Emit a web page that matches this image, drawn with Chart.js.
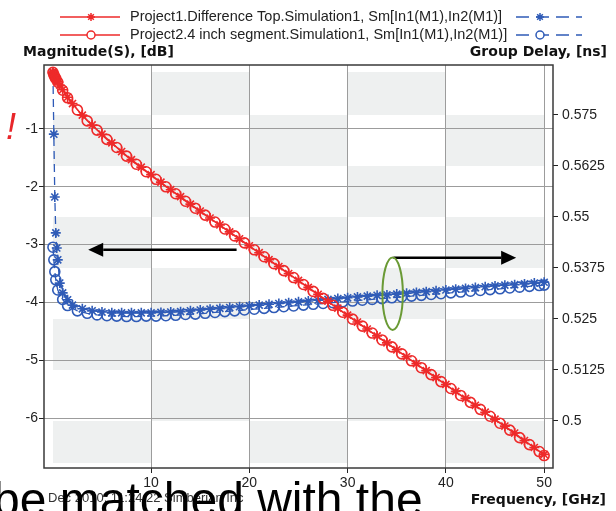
<!DOCTYPE html>
<html>
<head>
    <title>Magnitude and Group Delay vs Frequency</title>
    <script src="https://cdn.jsdelivr.net/npm/chart.js"></script>
    <style>
        body {
            margin: 0;
            background: #fff;
        }
        .chart-box {
            width: 616px;
            height: 511px;
            position: relative;
        }
    </style>
</head>
<body>
    <div class="chart-box">
        <canvas id="sparamChart" width="616" height="511"></canvas>
    </div>

    <script>
        // Frequency points (GHz) of each project sweep
        const freqP1 = [0.01, 0.1, 0.2, 0.3, 0.4, 0.5, 0.7, 1, 1.5, 2, 3, 4, 5, 6, 7, 8, 9, 10,
            11, 12, 13, 14, 15, 16, 17, 18, 19, 20, 21, 22, 23, 24, 25, 26, 27, 28, 29, 30,
            31, 32, 33, 34, 35, 36, 37, 38, 39, 40, 41, 42, 43, 44, 45, 46, 47, 48, 49, 50];
        const freqP2 = [0.01, 0.1, 0.2, 0.3, 0.5, 1, 1.5, 2.5, 3.5, 4.5, 5.5, 6.5, 7.5, 8.5, 9.5,
            10.5, 11.5, 12.5, 13.5, 14.5, 15.5, 16.5, 17.5, 18.5, 19.5, 20.5, 21.5, 22.5, 23.5, 24.5,
            25.5, 26.5, 27.5, 28.5, 29.5, 30.5, 31.5, 32.5, 33.5, 34.5, 35.5, 36.5, 37.5, 38.5, 39.5,
            40.5, 41.5, 42.5, 43.5, 44.5, 45.5, 46.5, 47.5, 48.5, 49.5, 50];

        // Magnitude(S), dB
        const magP1 = [-0.02, -0.05, -0.09, -0.12, -0.15, -0.18, -0.24, -0.32, -0.45, -0.56, -0.76, -0.93, -1.09, -1.24, -1.39, -1.53, -1.66, -1.79,
            -1.92, -2.05, -2.17, -2.30, -2.42, -2.54, -2.66, -2.78, -2.90, -3.02, -3.14, -3.26, -3.38, -3.50, -3.62, -3.74, -3.86, -3.98, -4.10, -4.22,
            -4.34, -4.46, -4.58, -4.70, -4.82, -4.94, -5.06, -5.18, -5.30, -5.42, -5.54, -5.66, -5.78, -5.90, -6.02, -6.14, -6.26, -6.39, -6.51, -6.63];
        const magP2 = [-0.02, -0.06, -0.10, -0.13, -0.19, -0.33, -0.46, -0.67, -0.86, -1.02, -1.18, -1.32, -1.47, -1.61, -1.74,
            -1.87, -2.00, -2.12, -2.25, -2.37, -2.49, -2.61, -2.73, -2.85, -2.97, -3.09, -3.21, -3.33, -3.45, -3.57,
            -3.69, -3.81, -3.93, -4.05, -4.17, -4.29, -4.41, -4.53, -4.65, -4.77, -4.89, -5.01, -5.13, -5.25, -5.37,
            -5.49, -5.61, -5.73, -5.85, -5.97, -6.09, -6.21, -6.34, -6.46, -6.58, -6.65];

        // Group delay, ns
        const gdP1 = [0.5853, 0.5703, 0.5549, 0.5461, 0.5424, 0.5395, 0.5338, 0.5314, 0.5297, 0.5284, 0.5275, 0.5270, 0.5267, 0.5265, 0.5265, 0.5265, 0.5265, 0.5265,
            0.5266, 0.5267, 0.5268, 0.5270, 0.5272, 0.5274, 0.5276, 0.5278, 0.5280, 0.5282, 0.5284, 0.5286, 0.5288, 0.5290, 0.5292, 0.5294, 0.5296, 0.5298, 0.5300, 0.5302,
            0.5304, 0.5306, 0.5308, 0.5309, 0.5311, 0.5313, 0.5315, 0.5317, 0.5319, 0.5321, 0.5323, 0.5325, 0.5327, 0.5329, 0.5331, 0.5333, 0.5334, 0.5336, 0.5338, 0.5340];
        const gdP2 = [0.5426, 0.5395, 0.5366, 0.5346, 0.5321, 0.5298, 0.5283, 0.5270, 0.5264, 0.5260, 0.5258, 0.5257, 0.5256, 0.5256, 0.5257,
            0.5257, 0.5258, 0.5259, 0.5261, 0.5262, 0.5264, 0.5266, 0.5268, 0.5270, 0.5272, 0.5274, 0.5276, 0.5278, 0.5280, 0.5282,
            0.5284, 0.5286, 0.5288, 0.5290, 0.5292, 0.5294, 0.5296, 0.5298, 0.5300, 0.5302, 0.5304, 0.5306, 0.5308, 0.5310, 0.5312,
            0.5314, 0.5316, 0.5318, 0.5320, 0.5322, 0.5324, 0.5326, 0.5328, 0.5330, 0.5332, 0.5333];

        // Axis ticks
        const freqTicks = [10, 20, 30, 40, 50];
        const magTicks = [-6, -5, -4, -3, -2, -1];
        const gdTicks = [0.5, 0.5125, 0.525, 0.5375, 0.55, 0.5625, 0.575];
        const gdTickLabels = ['0.5', '0.5125', '0.525', '0.5375', '0.55', '0.5625', '0.575'];

        const legendLabels = [
            'Project1.Difference Top.Simulation1, Sm[In1(M1),In2(M1)]',
            'Project2.4 inch segment.Simulation1, Sm[In1(M1),In2(M1)]'
        ];

        // shaded checkerboard: columns by frequency, rows by group delay ticks
        const bandCols = [0, 10, 20, 30, 40, 50];
        const bandRows = [0.4897, 0.5, 0.5125, 0.525, 0.5375, 0.55, 0.5625, 0.575, 0.5855];

        // annotations (in data units)
        const leftArrow = { from: 18.7, to: 3.6, db: -3.09 };
        const rightArrow = { from: 34.66, to: 47.15, db: -3.227 };
        const ringMark = { ghz: 34.58, db: -3.85, rx: 1.04, ry: 0.626 };

        const RED = '#ee2a2a';
        const BLUE = '#2f5bb7';

        function toPoints(xs, ys) {
            return xs.map((x, i) => ({ x: x, y: ys[i] }));
        }

        function drawMarker(ctx, style, x, y, r) {
            ctx.beginPath();
            if (style === 'star') {
                for (let k = 0; k < 4; k++) {
                    const a = k * Math.PI / 4;
                    ctx.moveTo(x - r * Math.cos(a), y - r * Math.sin(a));
                    ctx.lineTo(x + r * Math.cos(a), y + r * Math.sin(a));
                }
            } else {
                ctx.arc(x, y, r, 0, Math.PI * 2);
            }
            ctx.stroke();
        }

        function drawArrow(ctx, x1, y, x2) {
            const dir = x2 > x1 ? 1 : -1;
            const head = 15;
            ctx.beginPath();
            ctx.moveTo(x1, y);
            ctx.lineTo(x2 - dir * head, y);
            ctx.stroke();
            ctx.beginPath();
            ctx.moveTo(x2, y);
            ctx.lineTo(x2 - dir * head, y - 7);
            ctx.lineTo(x2 - dir * head, y + 7);
            ctx.closePath();
            ctx.fill();
        }

        const decorPlugin = {
            id: 'decor',
            beforeDraw(chart) {
                const { ctx, scales: { x, y1 } } = chart;
                ctx.save();
                ctx.fillStyle = '#eef0f0';
                for (let i = 0; i < bandCols.length - 1; i++) {
                    for (let j = 0; j < bandRows.length - 1; j++) {
                        if ((i + j) % 2 !== 0) continue;
                        const xl = Math.round(x.getPixelForValue(bandCols[i]));
                        const xr = Math.round(x.getPixelForValue(bandCols[i + 1]));
                        const yt = Math.round(y1.getPixelForValue(bandRows[j + 1]));
                        const yb = Math.round(y1.getPixelForValue(bandRows[j]));
                        ctx.fillRect(xl, yt, xr - xl, yb - yt);
                    }
                }
                ctx.restore();
            },
            afterDatasetsDraw(chart) {
                const { ctx, chartArea: a, scales: { x, y } } = chart;
                ctx.save();
                // annotation arrows
                ctx.strokeStyle = '#000';
                ctx.fillStyle = '#000';
                ctx.lineWidth = 2.5;
                drawArrow(ctx, x.getPixelForValue(leftArrow.from), y.getPixelForValue(leftArrow.db), x.getPixelForValue(leftArrow.to));
                drawArrow(ctx, x.getPixelForValue(rightArrow.from), y.getPixelForValue(rightArrow.db), x.getPixelForValue(rightArrow.to));
                // green ring
                const cx = x.getPixelForValue(ringMark.ghz);
                const cy = y.getPixelForValue(ringMark.db);
                const rx = x.getPixelForValue(ringMark.ghz + ringMark.rx) - cx;
                const ry = y.getPixelForValue(ringMark.db - ringMark.ry) - cy;
                ctx.strokeStyle = '#6a9a35';
                ctx.lineWidth = 2;
                ctx.beginPath();
                ctx.ellipse(cx, cy, rx, ry, 0, 0, Math.PI * 2);
                ctx.stroke();

                // plot frame
                ctx.strokeStyle = '#3a3a3a';
                ctx.lineWidth = 1.5;
                ctx.strokeRect(a.left, a.top, a.right - a.left, a.bottom - a.top);
                ctx.restore();
            },
            afterDraw(chart) {
                const ctx = chart.ctx;
                ctx.save();

                // legend (two rows, red magnitude left, blue group delay right)
                const styles = ['star', 'circle'];
                const rowsY = [17, 35];
                for (let i = 0; i < 2; i++) {
                    const ly = rowsY[i];
                    ctx.lineWidth = 1.5;
                    ctx.strokeStyle = RED;
                    ctx.setLineDash([]);
                    ctx.beginPath();
                    ctx.moveTo(60, ly);
                    ctx.lineTo(120, ly);
                    ctx.stroke();
                    if (styles[i] === 'circle') {
                        ctx.fillStyle = '#fff';
                        ctx.beginPath();
                        ctx.arc(91, ly, 4, 0, Math.PI * 2);
                        ctx.fill();
                    }
                    drawMarker(ctx, styles[i], 91, ly, 4);

                    ctx.fillStyle = '#222';
                    ctx.font = '14.5px "Liberation Sans"';
                    ctx.textAlign = 'left';
                    ctx.textBaseline = 'middle';
                    ctx.fillText(legendLabels[i], 130, ly);

                    ctx.lineWidth = 1.5;
                    ctx.strokeStyle = BLUE;
                    ctx.setLineDash([13, 7]);
                    ctx.beginPath();
                    ctx.moveTo(516, ly);
                    ctx.lineTo(582, ly);
                    ctx.stroke();
                    ctx.setLineDash([]);
                    if (styles[i] === 'circle') {
                        ctx.fillStyle = '#fff';
                        ctx.beginPath();
                        ctx.arc(540, ly, 4, 0, Math.PI * 2);
                        ctx.fill();
                    }
                    drawMarker(ctx, styles[i], 540, ly, 4);
                }

                // axis titles
                ctx.fillStyle = '#111';
                ctx.font = 'bold 14px "DejaVu Sans"';
                ctx.textBaseline = 'middle';
                ctx.textAlign = 'left';
                ctx.fillText('Magnitude(S), [dB]', 23, 52);
                ctx.textAlign = 'right';
                ctx.fillText('Group Delay, [ns]', 607, 52);
                ctx.fillText('Frequency, [GHz]', 606, 500);

                // timestamp
                ctx.textAlign = 'left';
                ctx.font = '13px "Liberation Sans"';
                ctx.fillStyle = '#333';
                ctx.fillText('Dec 2010, 11:24:22 Simberian Inc', 48, 498);

                // slide text that overlaps the picture
                ctx.fillStyle = '#000';
                ctx.font = '48px "Liberation Sans"';
                ctx.textBaseline = 'alphabetic';
                ctx.fillText('be matched with the', -7, 516);

                ctx.fillStyle = '#e8262a';
                ctx.font = 'italic 36px "Liberation Sans"';
                ctx.fillText('!', 6, 139);
                ctx.textAlign = 'right';
                ctx.fillText('e', 0, 139);

                ctx.restore();
            }
        };

        const markerCommon = {
            borderWidth: 1.3,
            pointRadius: 5,
            pointBorderWidth: 1.6
        };

        new Chart(document.getElementById('sparamChart'), {
            type: 'line',
            data: {
                datasets: [
                    {
                        ...markerCommon,
                        label: legendLabels[0],
                        data: toPoints(freqP1, magP1),
                        yAxisID: 'y',
                        borderColor: RED,
                        pointStyle: 'star',
                        pointBorderColor: RED,
                        pointBackgroundColor: RED
                    },
                    {
                        ...markerCommon,
                        label: legendLabels[1],
                        data: toPoints(freqP2, magP2),
                        yAxisID: 'y',
                        borderColor: RED,
                        pointStyle: 'circle',
                        pointBorderColor: RED,
                        pointBackgroundColor: 'rgba(0,0,0,0)'
                    },
                    {
                        ...markerCommon,
                        label: legendLabels[0],
                        data: toPoints(freqP1, gdP1),
                        yAxisID: 'y1',
                        borderColor: BLUE,
                        borderDash: [8, 5],
                        pointStyle: 'star',
                        pointBorderColor: BLUE,
                        pointBackgroundColor: BLUE
                    },
                    {
                        ...markerCommon,
                        label: legendLabels[1],
                        data: toPoints(freqP2, gdP2),
                        yAxisID: 'y1',
                        borderColor: BLUE,
                        borderDash: [8, 5],
                        pointStyle: 'circle',
                        pointBorderColor: BLUE,
                        pointBackgroundColor: 'rgba(0,0,0,0)'
                    }
                ]
            },
            options: {
                responsive: false,
                animation: false,
                devicePixelRatio: 1,
                layout: { padding: { top: 65 } },
                plugins: {
                    legend: { display: false },
                    tooltip: { enabled: false }
                },
                scales: {
                    x: {
                        type: 'linear',
                        min: -0.9,
                        max: 50.9,
                        afterBuildTicks: s => { s.ticks = freqTicks.map(v => ({ value: v })); },
                        afterFit: s => { s.height = 43; },
                        grid: { color: '#9c9c9c', tickColor: '#222', tickLength: 5 },
                        border: { display: false },
                        ticks: {
                            autoSkip: false,
                            maxRotation: 0,
                            padding: 2,
                            color: '#222',
                            font: { family: '"Liberation Sans"', size: 14 }
                        }
                    },
                    y: {
                        position: 'left',
                        min: -6.865,
                        max: 0.107,
                        afterBuildTicks: s => { s.ticks = magTicks.map(v => ({ value: v })); },
                        afterFit: s => { s.width = 44; },
                        grid: { color: '#9c9c9c', tickColor: '#222', tickLength: 5 },
                        border: { display: false },
                        ticks: {
                            autoSkip: false,
                            padding: 1,
                            color: '#222',
                            font: { family: '"Liberation Sans"', size: 14 }
                        }
                    },
                    y1: {
                        position: 'right',
                        min: 0.48848,
                        max: 0.58725,
                        afterBuildTicks: s => { s.ticks = gdTicks.map(v => ({ value: v })); },
                        afterFit: s => { s.width = 63; },
                        grid: { drawOnChartArea: false, tickColor: '#222', tickLength: 5 },
                        border: { display: false },
                        ticks: {
                            autoSkip: false,
                            padding: 4,
                            color: '#222',
                            font: { family: '"Liberation Sans"', size: 14 },
                            callback: (value, index) => gdTickLabels[index]
                        }
                    }
                }
            },
            plugins: [decorPlugin]
        });
    </script>
</body>
</html>
